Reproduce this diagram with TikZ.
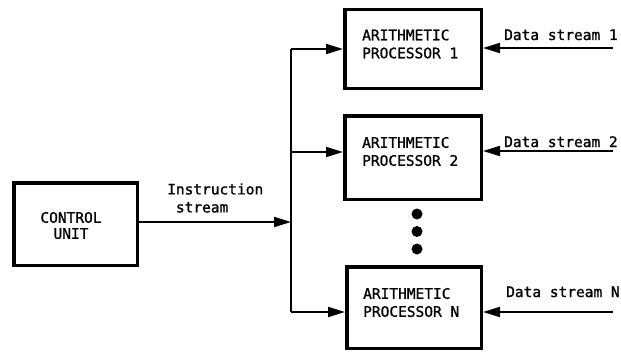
\documentclass[tikz,border=0pt]{standalone}
\usepackage{fontspec}
\setmonofont[FakeBold=1.2]{DejaVu Sans Mono}
\usetikzlibrary{arrows.meta}
\begin{document}
\begin{tikzpicture}[x=1pt,y=-1pt,
  box/.style={draw, line width=3.5pt, inner sep=0pt},
  lbl/.style={font=\ttfamily\fontsize{14.5}{18}\selectfont, inner sep=0pt, align=left},
  conn/.style={line width=2pt, -{Triangle[length=17pt,width=10pt]}},
  wire/.style={line width=2pt},
  dotnode/.style={circle, fill, inner sep=0pt, minimum size=11pt}]
\useasboundingbox (0,0) rectangle (621,353);
% boxes
\node[box, minimum width=123.5pt, minimum height=82.5pt] (cu) at (75.5,224) {};
\node[box, minimum width=136.5pt, minimum height=78.5pt] (ap1) at (413,49) {};
\node[box, minimum width=136.5pt, minimum height=83.5pt] (ap2) at (413,157.5) {};
\node[box, minimum width=134.5pt, minimum height=81.5pt] (apn) at (414,307.5) {};
% box texts
\node[lbl, align=center, font=\ttfamily\fontsize{14.5}{16}\selectfont] (cut) at (71,225.5) {CONTROL\\UNIT};
\node[lbl, anchor=west] (t1) at (362,44) {ARITHMETIC\\PROCESSOR 1};
\node[lbl, anchor=west] (t2) at (362,151.5) {ARITHMETIC\\PROCESSOR 2};
\node[lbl, anchor=west] (tn) at (363,302.5) {ARITHMETIC\\PROCESSOR N};
% bus
\coordinate (bt) at (291,49);
\coordinate (b2) at (291,152);
\coordinate (bi) at (291,222);
\coordinate (bb) at (291,312);
\draw[wire] (bt) -- (bb);
\draw[conn] (cu.east |- bi) -- (bi);
\node[lbl, anchor=west] (instr) at (167,198) {Instruction\\\hphantom{x}stream};
\draw[conn] (bt) -- (bt -| ap1.west);
\draw[conn] (b2) -- (b2 -| ap2.west);
\draw[conn] (bb) -- (bb -| apn.west);
% data streams
\coordinate (d1) at (613,48);
\coordinate (d2) at (613,151);
\coordinate (dn) at (613,312);
\draw[conn] (d1) -- (d1 -| ap1.east);
\draw[conn] (d2) -- (d2 -| ap2.east);
\draw[conn] (dn) -- (dn -| apn.east);
\node[lbl, anchor=base west] (l1) at (504,40) {Data stream 1};
\node[lbl, anchor=base west] (l2) at (504,147) {Data stream 2};
\node[lbl, anchor=base west] (ln) at (506,297) {Data stream N};
% dots
\node[dotnode] (dot1) at (417,214) {};
\node[dotnode] (dot2) at (417,231.5) {};
\node[dotnode] (dot3) at (417,249) {};
\end{tikzpicture}
\end{document}
